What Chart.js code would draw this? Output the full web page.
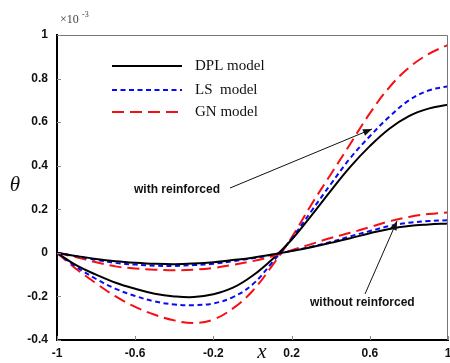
<!DOCTYPE html>
<html>
<head>
<meta charset="utf-8">
<script src="https://cdn.jsdelivr.net/npm/chart.js@4"></script>
<style>
  body { margin: 0; background: #fff; }
  canvas { display: block; }
</style>
</head>
<body>
<canvas id="thetaChart" width="450" height="363"></canvas>
<script>
// position along the rod
const xs = [-1, -0.9, -0.8, -0.7, -0.6, -0.5, -0.4, -0.3, -0.2, -0.1, 0,
            0.1, 0.2, 0.3, 0.4, 0.5, 0.6, 0.7, 0.8, 0.9, 1];

// theta (x1e-3), reinforced case
const dplWith = [0, -0.058, -0.1, -0.137, -0.165, -0.188, -0.2, -0.203, -0.19, -0.16, -0.105,
                 -0.03, 0.06, 0.17, 0.285, 0.395, 0.49, 0.57, 0.628, 0.662, 0.68];
const lsWith  = [0, -0.065, -0.12, -0.165, -0.198, -0.223, -0.237, -0.24, -0.232, -0.203, -0.145,
                 -0.045, 0.065, 0.19, 0.315, 0.435, 0.535, 0.625, 0.7, 0.745, 0.765];
const gnWith  = [0, -0.075, -0.14, -0.2, -0.248, -0.284, -0.31, -0.322, -0.306, -0.255, -0.175,
                 -0.06, 0.07, 0.22, 0.36, 0.5, 0.64, 0.76, 0.85, 0.912, 0.955];

// theta (x1e-3), without reinforcement
const dplWithout = [0, -0.015, -0.028, -0.038, -0.045, -0.05, -0.052, -0.049, -0.043, -0.033, -0.022,
                    -0.008, 0.008, 0.026, 0.046, 0.067, 0.09, 0.11, 0.123, 0.13, 0.135];
const lsWithout  = [0, -0.016, -0.032, -0.046, -0.054, -0.059, -0.06, -0.056, -0.05, -0.038, -0.025,
                    -0.009, 0.009, 0.028, 0.05, 0.076, 0.1, 0.123, 0.138, 0.146, 0.15];
const gnWithout  = [0, -0.02, -0.043, -0.062, -0.072, -0.077, -0.08, -0.077, -0.069, -0.055, -0.038,
                    -0.016, 0.012, 0.04, 0.068, 0.092, 0.118, 0.145, 0.165, 0.178, 0.185];

const xTicks = [-1, -0.6, -0.2, 0.2, 0.6, 1];
const yTicks = [-0.4, -0.2, 0, 0.2, 0.4, 0.6, 0.8, 1];
const legendNames = ['DPL model', 'LS  model', 'GN model'];

const BLACK = '#000000';
const BLUE = 'rgb(10,10,245)';
const RED = 'rgb(245,15,20)';

const pts = ys => ys.map((y, i) => ({ x: xs[i], y: y }));

const styles = [
  { color: BLACK, dash: [] },
  { color: BLUE, dash: [5, 3.5] },
  { color: RED, dash: [12, 6] }
];

function ds(ys, s) {
  return {
    data: pts(ys),
    borderColor: s.color,
    borderWidth: 2,
    borderDash: s.dash,
    pointRadius: 0,
    fill: false,
    tension: 0.4
  };
}

function arrow(ctx, x1, y1, x2, y2) {
  ctx.beginPath();
  ctx.moveTo(x1, y1);
  ctx.lineTo(x2, y2);
  ctx.stroke();
  const a = Math.atan2(y2 - y1, x2 - x1);
  const L = 9, W = 3.5;
  ctx.beginPath();
  ctx.moveTo(x2, y2);
  ctx.lineTo(x2 - L * Math.cos(a) + W * Math.sin(a), y2 - L * Math.sin(a) - W * Math.cos(a));
  ctx.lineTo(x2 - L * Math.cos(a) - W * Math.sin(a), y2 - L * Math.sin(a) + W * Math.cos(a));
  ctx.closePath();
  ctx.fill();
}

// frame, inner ticks, legend, labels and arrows
const decor = {
  id: 'decor',
  afterDraw(chart) {
    const ctx = chart.ctx;
    const a = chart.chartArea;
    const sx = chart.scales.x, sy = chart.scales.y;
    ctx.save();

    // thin grey top/right frame
    ctx.strokeStyle = '#777';
    ctx.lineWidth = 1;
    ctx.beginPath();
    ctx.moveTo(a.left, a.top + 0.5);
    ctx.lineTo(a.right - 0.5, a.top + 0.5);
    ctx.lineTo(a.right - 0.5, a.bottom);
    ctx.stroke();

    // inward tick marks
    ctx.strokeStyle = '#888';
    xTicks.forEach(v => {
      const p = Math.round(sx.getPixelForValue(v)) + 0.5;
      ctx.beginPath(); ctx.moveTo(p, a.bottom); ctx.lineTo(p, a.bottom - 4); ctx.stroke();
    });
    yTicks.forEach(v => {
      const p = Math.round(sy.getPixelForValue(v)) + 0.5;
      ctx.beginPath(); ctx.moveTo(a.left, p); ctx.lineTo(a.left + 4, p); ctx.stroke();
    });

    // legend
    const ly = [66, 90, 112];
    ctx.font = '15px "Liberation Serif", serif';
    ctx.textBaseline = 'middle';
    ctx.textAlign = 'left';
    styles.forEach((s, i) => {
      ctx.strokeStyle = s.color;
      ctx.lineWidth = 2;
      ctx.setLineDash(s.dash);
      ctx.beginPath();
      ctx.moveTo(112, ly[i]);
      ctx.lineTo(182, ly[i]);
      ctx.stroke();
      ctx.setLineDash([]);
      ctx.fillStyle = '#111';
      ctx.fillText(legendNames[i], 195, ly[i]);
    });

    // annotations
    ctx.fillStyle = '#111';
    ctx.font = 'bold 12px "Liberation Sans", Arial, sans-serif';
    ctx.fillText('with reinforced', 134, 190);
    ctx.fillText('without reinforced', 310, 303);
    ctx.strokeStyle = '#111';
    ctx.lineWidth = 1;
    arrow(ctx, 230, 188, 372, 129);
    arrow(ctx, 365, 294, 397, 221);

    // axis symbols
    ctx.font = 'italic 21px "Liberation Serif", serif';
    ctx.textAlign = 'center';
    ctx.fillText('\u03b8', 15, 185);
    ctx.fillText('x', 262, 352);

    // exponent
    ctx.fillStyle = '#444';
    ctx.textAlign = 'left';
    ctx.font = '12px "Liberation Serif", serif';
    ctx.fillText('\u00d710', 60, 20);
    ctx.font = '8px "Liberation Serif", serif';
    ctx.fillText('-3', 82, 15);

    ctx.restore();
  }
};

new Chart(document.getElementById('thetaChart'), {
  type: 'line',
  data: {
    datasets: [
      ds(dplWithout, styles[0]), ds(lsWithout, styles[1]), ds(gnWithout, styles[2]),
      ds(dplWith, styles[0]), ds(lsWith, styles[1]), ds(gnWith, styles[2])
    ]
  },
  options: {
    responsive: false,
    animation: false,
    layout: { padding: { top: 35, right: 2, left: 0, bottom: 0 } },
    plugins: { legend: { display: false }, tooltip: { enabled: false } },
    scales: {
      x: {
        type: 'linear',
        min: -1,
        max: 1,
        afterBuildTicks: s => { s.ticks = xTicks.map(v => ({ value: v })); },
        afterFit: s => { s.height = 23; s.paddingLeft = 0; s.paddingRight = 0; },
        grid: { display: false, drawTicks: false },
        border: { display: true, color: '#000', width: 2 },
        ticks: {
          autoSkip: false,
          maxRotation: 0,
          padding: 6,
          color: '#111',
          font: { family: '"Liberation Sans", Arial, sans-serif', size: 12, weight: 'bold' },
          callback: v => String(Number(v.toFixed(1)))
        }
      },
      y: {
        min: -0.4,
        max: 1,
        afterBuildTicks: s => { s.ticks = yTicks.map(v => ({ value: v })); },
        afterFit: s => { s.width = 57; s.paddingTop = 0; s.paddingBottom = 0; },
        grid: { display: false, drawTicks: false },
        border: { display: true, color: '#000', width: 2 },
        ticks: {
          autoSkip: false,
          padding: 9,
          color: '#111',
          font: { family: '"Liberation Sans", Arial, sans-serif', size: 12, weight: 'bold' },
          callback: v => String(Number(v.toFixed(1)))
        }
      }
    }
  },
  plugins: [decor]
});
</script>
</body>
</html>
